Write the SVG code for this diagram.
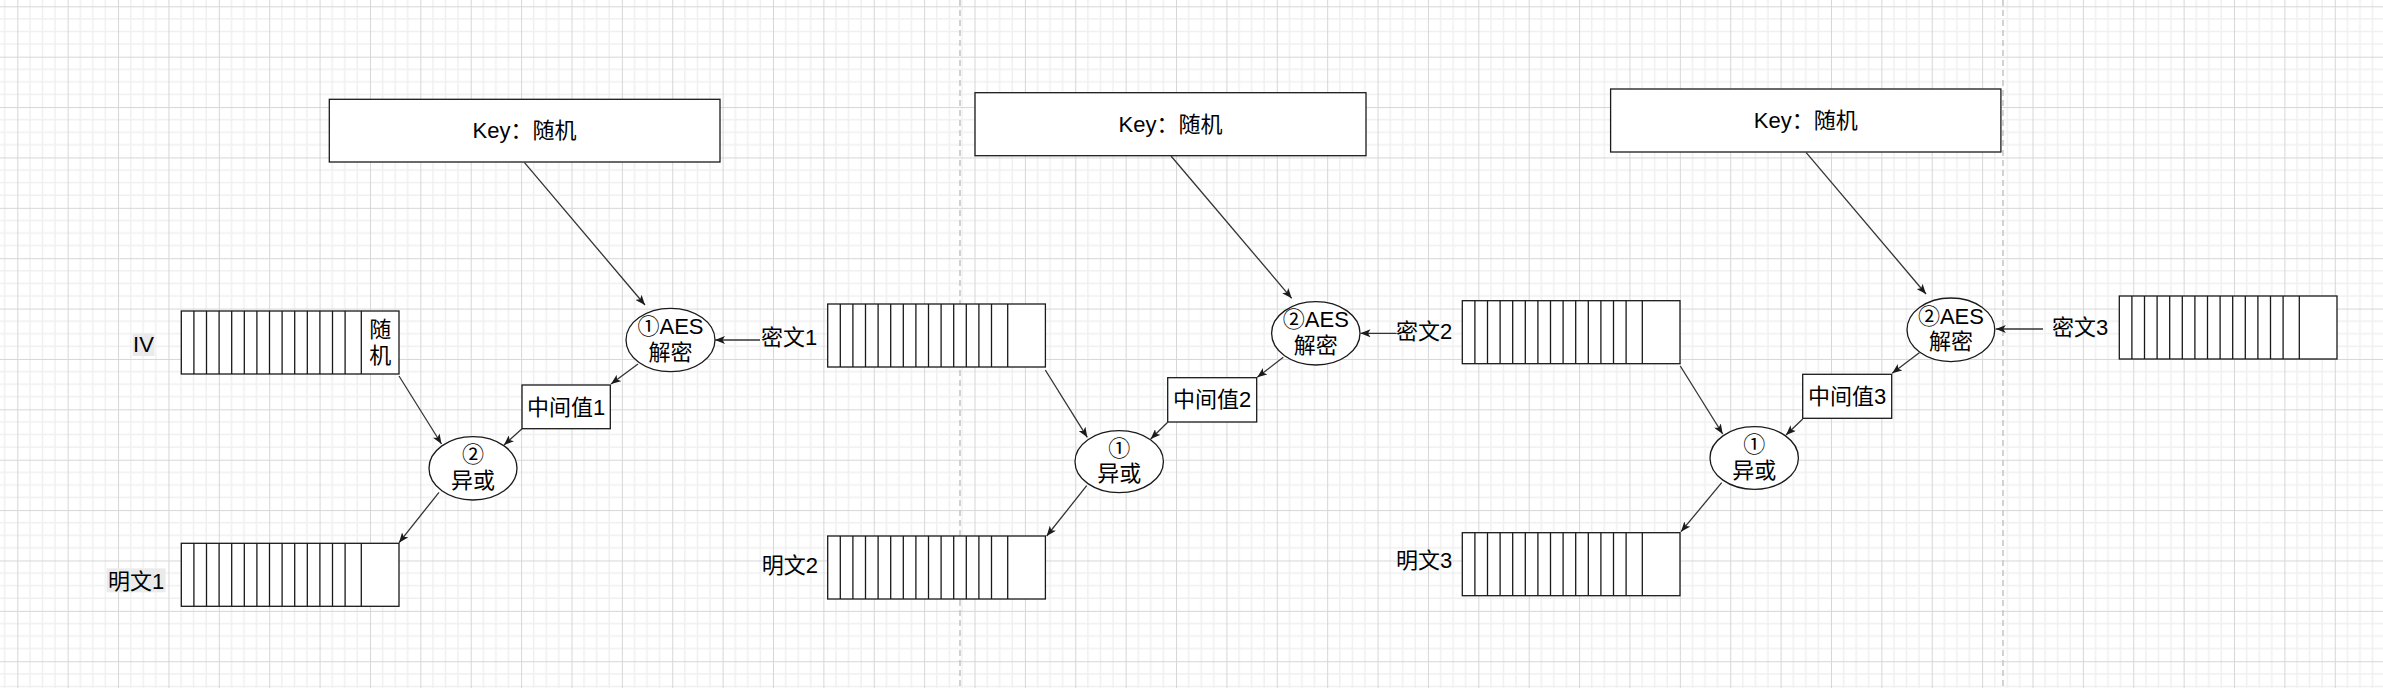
<svg xmlns="http://www.w3.org/2000/svg" xmlns:xlink="http://www.w3.org/1999/xlink" width="2383" height="688" viewBox="0 0 2383 688">
<style>
.node{fill:#fff;stroke:#1a1a1a;stroke-width:1.3}
.cell{stroke:#1a1a1a;stroke-width:1.3}
.conn{stroke:#333;stroke-width:1.3;fill:none;marker-end:url(#arr)}
.sep{stroke:#c4c4c4;stroke-width:1.5;stroke-dasharray:6 4}
.lblbg{fill:#ebebeb}
text{font-family:"Liberation Sans","Noto Sans CJK SC",sans-serif;font-size:22px;fill:#000}
.c{text-anchor:middle}
.e{text-anchor:end}
</style>
<defs>
<pattern id="grid" patternUnits="userSpaceOnUse" x="17.3" y="6.3" width="50.38" height="50.38">
<path d="M12.595 0V50.38M25.19 0V50.38M37.785 0V50.38M0 12.595H50.38M0 25.19H50.38M0 37.785H50.38" stroke="#f0f0f0" stroke-width="1.5" fill="none"/>
<path d="M0.5 0V50.38M0 0.5H50.38" stroke="#d6d6d6" stroke-width="1" fill="none"/>
</pattern>
<marker id="arr" markerUnits="userSpaceOnUse" viewBox="0 0 10 8" refX="10" refY="4" markerWidth="10" markerHeight="8" orient="auto">
<path d="M0,0 L10,4 L0,8 L2.5,4 z" fill="#1a1a1a"/>
</marker>
<g id="register">
<rect class="node" x="0" y="0" width="217.7" height="63"/>
<path class="cell" d="M12.6 0V63M25.2 0V63M37.8 0V63M50.4 0V63M63 0V63M75.6 0V63M88.2 0V63M100.8 0V63M113.4 0V63M126 0V63M138.6 0V63M151.2 0V63M163.8 0V63M180 0V63"/>
</g>
</defs>
<rect x="0" y="0" width="2383" height="688" fill="#fff"/>
<rect x="0" y="0" width="2383" height="688" fill="url(#grid)"/>
<g id="separators">
<line class="sep" x1="960" y1="0" x2="960" y2="688"/>
<line class="sep" x1="2003" y1="0" x2="2003" y2="688"/>
</g>

<g id="key1"><rect class="node" x="329.3" y="99.3" width="390.7" height="62.7"/><text class="c" x="524.5" y="138">Key：随机</text></g>
<g id="key2"><rect class="node" x="975" y="92.7" width="391" height="63"/><text class="c" x="1170.5" y="131.7">Key：随机</text></g>
<g id="key3"><rect class="node" x="1610.6" y="89" width="390.3" height="63"/><text class="c" x="1805.8" y="128.3">Key：随机</text></g>

<g id="iv-reg" transform="translate(181.3,311)"><use xlink:href="#register"/><text class="c" x="199" y="25.5">随</text><text class="c" x="199" y="52">机</text></g>
<g id="iv-label"><rect class="lblbg" x="132.6" y="333.3" width="21.9" height="22.7"/><text class="c" x="143.5" y="351.5">IV</text></g>
<g id="plain1-reg" transform="translate(181.3,543.3)"><use xlink:href="#register"/></g>
<g id="plain1-label"><rect class="lblbg" x="106.7" y="568.3" width="58.9" height="24"/><text class="c" x="136" y="588.5">明文1</text></g>
<g id="cipher1-reg" transform="translate(827.7,304)"><use xlink:href="#register"/></g>
<g id="cipher1-label"><text x="761" y="344.5">密文1</text></g>
<g id="plain2-reg" transform="translate(827.7,536)"><use xlink:href="#register"/></g>
<g id="plain2-label"><text class="e" x="818" y="573">明文2</text></g>
<g id="cipher2-reg" transform="translate(1462.3,300.7)"><use xlink:href="#register"/></g>
<g id="cipher2-label"><text x="1396" y="339">密文2</text></g>
<g id="plain3-reg" transform="translate(1462.3,532.7)"><use xlink:href="#register"/></g>
<g id="plain3-label"><text x="1396" y="568">明文3</text></g>
<g id="cipher3-reg" transform="translate(2119.3,296)"><use xlink:href="#register"/></g>
<g id="cipher3-label"><text x="2052" y="335">密文3</text></g>

<g id="aes1"><ellipse class="node" cx="670.5" cy="340" rx="44.5" ry="31.7"/><text class="c" x="670.5" y="334">①AES</text><text class="c" x="670.5" y="359.5">解密</text></g>
<g id="aes2"><ellipse class="node" cx="1315.8" cy="333.3" rx="44.2" ry="31.7"/><text class="c" x="1315.8" y="327.3">②AES</text><text class="c" x="1315.8" y="352.8">解密</text></g>
<g id="aes3"><ellipse class="node" cx="1950.9" cy="329.8" rx="43.9" ry="31.8"/><text class="c" x="1950.9" y="323.8">②AES</text><text class="c" x="1950.9" y="349.3">解密</text></g>

<g id="xor1"><ellipse class="node" cx="473" cy="468.3" rx="44" ry="31.7"/><text class="c" x="473" y="462.3">②</text><text class="c" x="473" y="487.8">异或</text></g>
<g id="xor2"><ellipse class="node" cx="1119.2" cy="461.7" rx="44.2" ry="31"/><text class="c" x="1119.2" y="455.7">①</text><text class="c" x="1119.2" y="481.2">异或</text></g>
<g id="xor3"><ellipse class="node" cx="1754.2" cy="458" rx="44.2" ry="31.3"/><text class="c" x="1754.2" y="452">①</text><text class="c" x="1754.2" y="477.5">异或</text></g>

<g id="mid1"><rect class="node" x="522" y="385" width="88.3" height="43.7"/><text class="c" x="566.2" y="414.5">中间值1</text></g>
<g id="mid2"><rect class="node" x="1167.7" y="377.7" width="89" height="44.3"/><text class="c" x="1212.2" y="407.3">中间值2</text></g>
<g id="mid3"><rect class="node" x="1802.7" y="374.3" width="89" height="44"/><text class="c" x="1847.2" y="403.8">中间值3</text></g>

<g id="connectors">
<line class="conn" x1="524.3" y1="162.3" x2="645" y2="305"/>
<line class="conn" x1="760" y1="340" x2="715" y2="340"/>
<line class="conn" x1="638" y1="364" x2="611" y2="384"/>
<line class="conn" x1="399" y1="376" x2="441.5" y2="444"/>
<line class="conn" x1="522" y1="428.7" x2="504" y2="445"/>
<line class="conn" x1="439" y1="492.3" x2="399" y2="542.7"/>
<line class="conn" x1="1171" y1="156" x2="1291.7" y2="298.3"/>
<line class="conn" x1="1396.7" y1="333.3" x2="1360.5" y2="333.3"/>
<line class="conn" x1="1283.3" y1="357.3" x2="1257.3" y2="377.3"/>
<line class="conn" x1="1045.3" y1="370" x2="1087.3" y2="437.3"/>
<line class="conn" x1="1167.7" y1="422.3" x2="1150.7" y2="439"/>
<line class="conn" x1="1086.7" y1="485.7" x2="1046.7" y2="536"/>
<line class="conn" x1="1806" y1="152.3" x2="1926" y2="294"/>
<line class="conn" x1="2043" y1="329" x2="1995.8" y2="329"/>
<line class="conn" x1="1919.3" y1="352.7" x2="1892.2" y2="373.3"/>
<line class="conn" x1="1680.3" y1="366" x2="1722.7" y2="434"/>
<line class="conn" x1="1802.7" y1="419" x2="1786" y2="435"/>
<line class="conn" x1="1721.7" y1="482.7" x2="1681" y2="531.7"/>
</g>
</svg>
